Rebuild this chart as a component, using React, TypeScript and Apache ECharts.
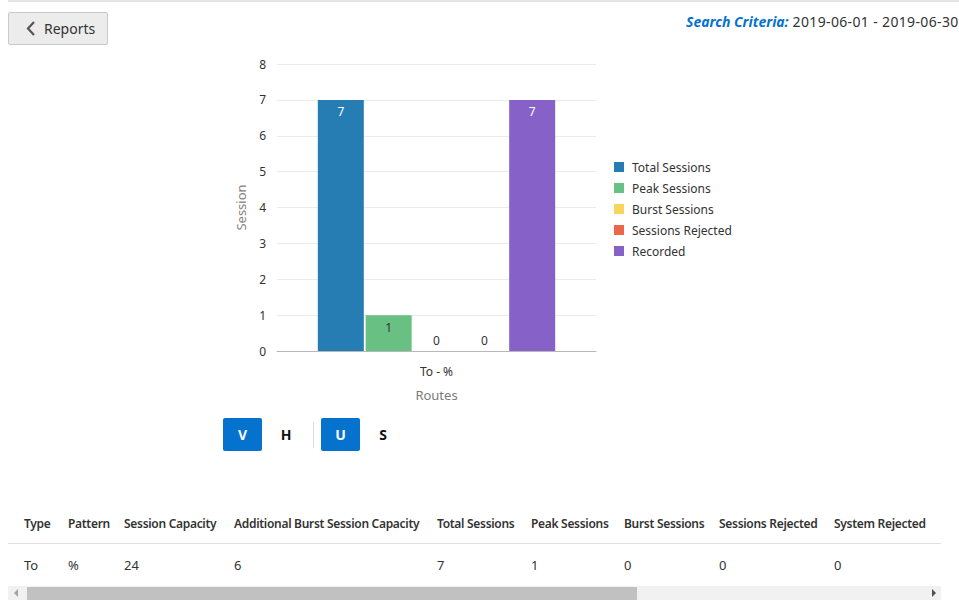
import React, { useEffect, useRef } from "react";
import * as echarts from "echarts";

const categories = ["To - %"];
const seriesNames = ["Total Sessions", "Peak Sessions", "Burst Sessions", "Sessions Rejected", "Recorded"];
const seriesValues = [7, 1, 0, 0, 7];
const seriesColors = ["#267db3", "#68c182", "#fad55c", "#ed6647", "#8561c8"];
const labelColors = ["#ffffff", "#333333", "#333333", "#333333", "#ffffff"];
const yMin = 0;
const yMax = 8;
const yInterval = 1;

const tableHeaders = [
  "Type",
  "Pattern",
  "Session Capacity",
  "Additional Burst Session Capacity",
  "Total Sessions",
  "Peak Sessions",
  "Burst Sessions",
  "Sessions Rejected",
  "System Rejected",
];
const tableRow = ["To", "%", "24", "6", "7", "1", "0", "0", "0"];
const columnX = [24, 68, 124, 234, 437, 531, 624, 719, 834];

const FONT = "'Noto Sans', sans-serif";

function Chart() {
  const ref = useRef<HTMLDivElement>(null);
  useEffect(() => {
    if (!ref.current) return;
    const chart = echarts.init(ref.current, undefined, { renderer: "svg" });
    chart.setOption({
      animation: false,
      textStyle: { fontFamily: FONT },
      grid: { left: 277, right: 363, top: 64, bottom: 249 },
      legend: {
        orient: "vertical",
        left: 609,
        top: 156,
        itemWidth: 10,
        itemHeight: 10,
        itemGap: 9,
        icon: "rect",
        textStyle: { color: "#333", fontSize: 12, fontFamily: FONT, padding: [0, 0, 0, 3] },
        data: seriesNames,
      },
      xAxis: {
        type: "category",
        data: categories,
        name: "Routes",
        nameLocation: "middle",
        nameGap: 37,
        nameTextStyle: { color: "#7a7a7a", fontSize: 13, fontFamily: FONT },
        axisLine: { lineStyle: { color: "#b8b8b8" } },
        axisTick: { show: false },
        axisLabel: { color: "#333", fontSize: 12, margin: 14, fontFamily: FONT },
      },
      yAxis: {
        type: "value",
        min: yMin,
        max: yMax,
        interval: yInterval,
        name: "Session",
        nameLocation: "middle",
        nameGap: 30,
        nameTextStyle: { color: "#8a8080", fontSize: 13, fontFamily: FONT },
        axisLine: { show: false },
        axisTick: { show: false },
        axisLabel: { color: "#333", fontSize: 12, margin: 11, fontFamily: FONT },
        splitLine: { lineStyle: { color: "#e8ebee" } },
      },
      series: seriesNames.map((name, i) => ({
        name,
        type: "bar",
        barWidth: 46,
        barGap: "4%",
        itemStyle: { color: seriesColors[i] },
        data: [
          {
            value: seriesValues[i],
            label: {
              show: true,
              position: seriesValues[i] > 0 ? "insideTop" : "top",
              distance: seriesValues[i] > 0 ? 6 : 5,
              color: seriesValues[i] > 0 ? labelColors[i] : "#333",
              fontSize: 12,
              fontFamily: FONT,
            },
          },
        ],
      })),
    });
    return () => chart.dispose();
  }, []);
  return <div ref={ref} style={{ position: "absolute", left: 0, top: 0, width: 959, height: 600 }} />;
}

export default function App() {
  const txt: React.CSSProperties = { position: "absolute", fontFamily: FONT, whiteSpace: "nowrap" };
  return (
    <div
      style={{
        position: "fixed",
        left: 0,
        top: 0,
        width: 959,
        height: 600,
        overflow: "hidden",
        background: "#fff",
        fontFamily: FONT,
        color: "#333",
      }}
    >
      {/* top border */}
      <div style={{ position: "absolute", left: 8, top: 0, width: 951, height: 2, background: "#e6e6e6" }} />
      {/* Reports button */}
      <div
        style={{
          position: "absolute",
          left: 8,
          top: 12,
          width: 98,
          height: 31,
          background: "#ececec",
          border: "1px solid #c9c9c9",
          borderRadius: 2,
        }}
      >
        <svg width="14" height="16" style={{ position: "absolute", left: 15, top: 8 }}>
          <polyline points="10,1 4,7.5 10,14" fill="none" stroke="#555" strokeWidth="2.2" />
        </svg>
        <div style={{ ...txt, left: 35, top: 6, fontSize: 14, color: "#333" }}>Reports</div>
      </div>
      {/* Search criteria */}
      <div style={{ ...txt, left: 686, top: 12, fontSize: 14 }}>
        <span style={{ color: "#0572ce", fontWeight: 700, fontStyle: "italic" }}>Search Criteria:</span>
        <span style={{ color: "#333", letterSpacing: 0.35 }}> 2019-06-01 - 2019-06-30</span>
      </div>

      <Chart />

      {/* V H | U S toggles */}
      <div
        style={{
          position: "absolute",
          left: 223,
          top: 418,
          width: 39,
          height: 33,
          background: "#0572ce",
          borderRadius: 2,
          color: "#fff",
          fontWeight: 700,
          fontSize: 14,
          textAlign: "center",
          lineHeight: "33px",
        }}
      >
        V
      </div>
      <div style={{ ...txt, left: 280, top: 418, width: 12, lineHeight: "33px", fontWeight: 700, fontSize: 14, color: "#111", textAlign: "center" }}>H</div>
      <div style={{ position: "absolute", left: 313, top: 422, width: 1, height: 26, background: "#dcdcdc" }} />
      <div
        style={{
          position: "absolute",
          left: 321,
          top: 418,
          width: 39,
          height: 33,
          background: "#0572ce",
          borderRadius: 2,
          color: "#fff",
          fontWeight: 700,
          fontSize: 14,
          textAlign: "center",
          lineHeight: "33px",
        }}
      >
        U
      </div>
      <div style={{ ...txt, left: 377, top: 418, width: 12, lineHeight: "33px", fontWeight: 700, fontSize: 14, color: "#111", textAlign: "center" }}>S</div>

      {/* table */}
      {tableHeaders.map((h, i) => (
        <div key={"h" + i} style={{ ...txt, left: columnX[i], top: 515, fontSize: 12, fontWeight: 600, color: "#333", letterSpacing: -0.3 }}>
          {h}
        </div>
      ))}
      <div style={{ position: "absolute", left: 8, top: 543, width: 933, height: 1, background: "#e0e0e0" }} />
      {tableRow.map((v, i) => (
        <div key={"r" + i} style={{ ...txt, left: columnX[i], top: 556, fontSize: 13, color: "#333" }}>
          {v}
        </div>
      ))}
      {/* scrollbar */}
      <div style={{ position: "absolute", left: 8, top: 586, width: 933, height: 14, background: "#f1f1f1" }} />
      <div style={{ position: "absolute", left: 27, top: 587, width: 610, height: 13, background: "#c1c1c1" }} />
      <svg width="8" height="8" style={{ position: "absolute", left: 12, top: 589 }}>
        <polygon points="6,0 2,4 6,8" fill="#a3a3a3" />
      </svg>
      <svg width="8" height="8" style={{ position: "absolute", left: 930, top: 589 }}>
        <polygon points="2,0 6,4 2,8" fill="#505050" />
      </svg>
    </div>
  );
}
